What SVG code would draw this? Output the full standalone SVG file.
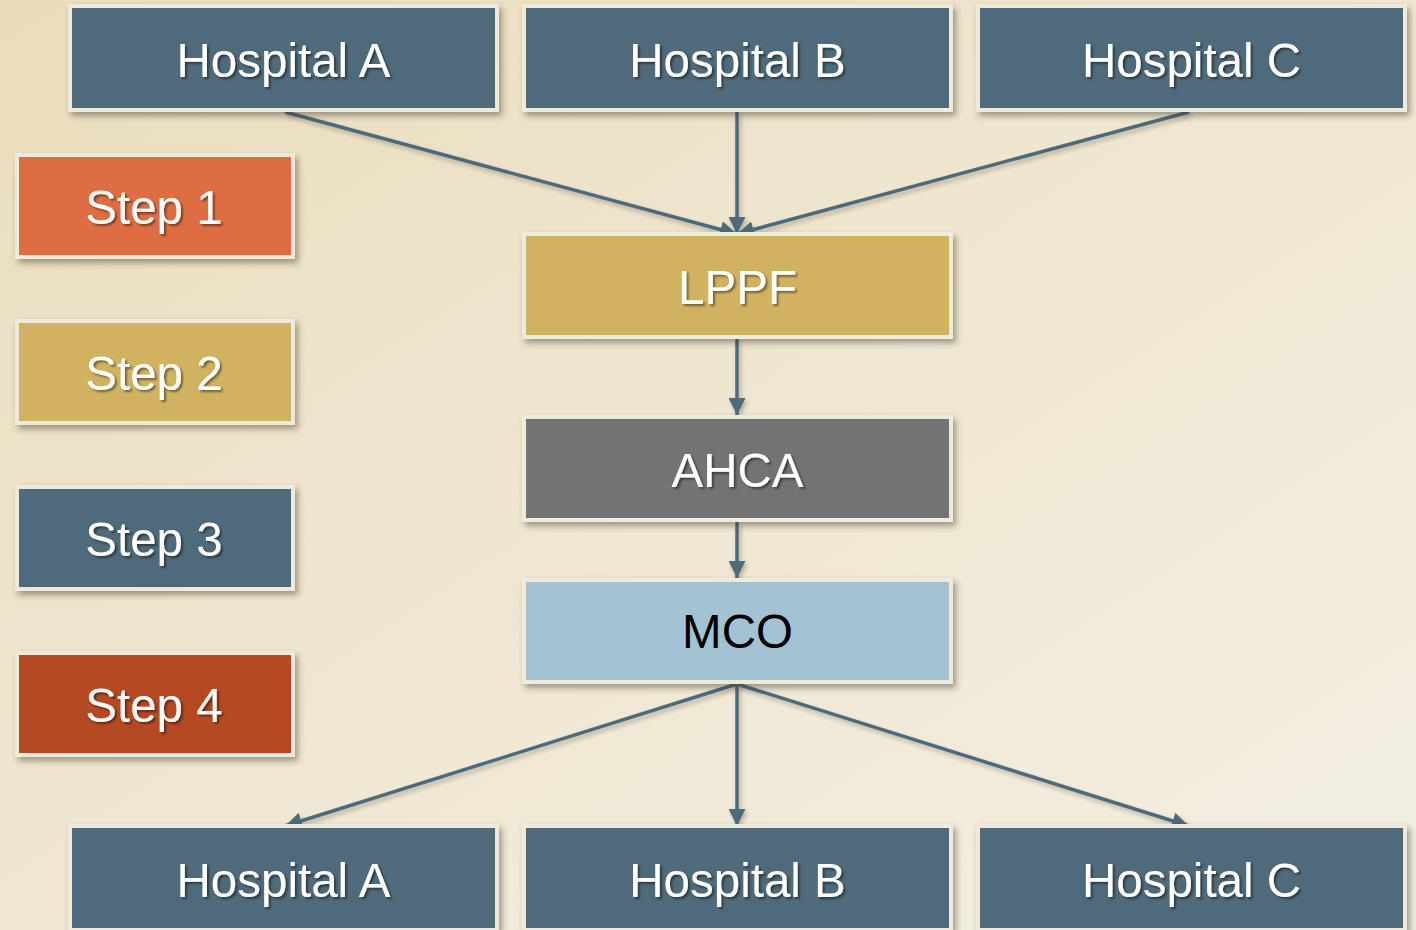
<svg xmlns="http://www.w3.org/2000/svg" width="1416" height="930" viewBox="0 0 1416 930">
  <defs>
    <linearGradient id="bg" x1="0" y1="0" x2="1" y2="1">
      <stop offset="0" stop-color="#EADDBC"/>
      <stop offset="0.5" stop-color="#EFE7D2"/>
      <stop offset="1" stop-color="#F3EFE2"/>
    </linearGradient>
    <filter id="shadow" x="-5%" y="-10%" width="115%" height="130%">
      <feDropShadow dx="3" dy="4" stdDeviation="3" flood-color="#3a3020" flood-opacity="0.45"/>
    </filter>
    <filter id="lshadow" x="-10%" y="-10%" width="120%" height="120%">
      <feDropShadow dx="2" dy="3" stdDeviation="2" flood-color="#3a3020" flood-opacity="0.3"/>
    </filter>
    <filter id="tshadow" x="-10%" y="-20%" width="120%" height="140%">
      <feDropShadow dx="2" dy="2" stdDeviation="1" flood-color="#000" flood-opacity="0.45"/>
    </filter>
    <marker id="arrow" markerUnits="userSpaceOnUse" markerWidth="17" markerHeight="17" refX="17" refY="8.5" orient="auto">
      <path d="M0,0 L17,8.5 L0,17 Z" fill="#4E6B7C"/>
    </marker>
    <style>
      .box { stroke: #EEEADC; stroke-width: 4; filter: url(#shadow); }
      .hosp { fill: #4F6B7A; }
      .s1 { fill: #DE6E42; }
      .gold { fill: #D0B260; }
      .s4 { fill: #B54A20; }
      .ahca { fill: #737373; }
      .mco { fill: #A3C3D2; }
      .lbl { font-family: "Liberation Sans", Arial, sans-serif; font-size: 47.5px; fill: #FFFFFF; text-anchor: middle; filter: url(#tshadow); }
      .dark { fill: #000000; filter: none; }
      .conn { stroke: #4E6B7C; stroke-width: 3.5; fill: none; marker-end: url(#arrow); }
    </style>
  </defs>
  <rect x="0" y="0" width="1416" height="930" fill="url(#bg)"/>

  <g id="connectors" filter="url(#lshadow)">
    <line class="conn" x1="285" y1="112" x2="737" y2="234"/>
    <line class="conn" x1="737" y1="112" x2="737" y2="234"/>
    <line class="conn" x1="1189" y1="112" x2="737" y2="234"/>
    <line class="conn" x1="737" y1="339" x2="737" y2="415"/>
    <line class="conn" x1="737" y1="522" x2="737" y2="578"/>
    <line class="conn" x1="737" y1="684" x2="285" y2="826"/>
    <line class="conn" x1="737" y1="684" x2="737" y2="826"/>
    <line class="conn" x1="737" y1="684" x2="1189" y2="826"/>
  </g>

  <g id="hospA-top">
    <rect class="box hosp" x="70" y="6" width="427" height="104"/>
    <text class="lbl" x="283.5" y="77">Hospital A</text>
  </g>
  <g id="hospB-top">
    <rect class="box hosp" x="524" y="6" width="427" height="104"/>
    <text class="lbl" x="737.5" y="77">Hospital B</text>
  </g>
  <g id="hospC-top">
    <rect class="box hosp" x="978" y="6" width="427" height="104"/>
    <text class="lbl" x="1191.5" y="77">Hospital C</text>
  </g>

  <g id="step1">
    <rect class="box s1" x="17" y="155" width="276" height="102"/>
    <text class="lbl" x="154" y="224">Step 1</text>
  </g>
  <g id="step2">
    <rect class="box gold" x="17" y="321" width="276" height="102"/>
    <text class="lbl" x="154" y="390">Step 2</text>
  </g>
  <g id="step3">
    <rect class="box hosp" x="17" y="487" width="276" height="102"/>
    <text class="lbl" x="154" y="556">Step 3</text>
  </g>
  <g id="step4">
    <rect class="box s4" x="17" y="653" width="276" height="102"/>
    <text class="lbl" x="154" y="722">Step 4</text>
  </g>

  <g id="lppf">
    <rect class="box gold" x="524" y="234" width="427" height="103"/>
    <text class="lbl" x="737.5" y="304">LPPF</text>
  </g>
  <g id="ahca">
    <rect class="box ahca" x="524" y="417" width="427" height="103"/>
    <text class="lbl" x="737.5" y="487">AHCA</text>
  </g>
  <g id="mco">
    <rect class="box mco" x="524" y="580" width="427" height="102"/>
    <text class="lbl dark" x="737.5" y="648">MCO</text>
  </g>

  <g id="hospA-bottom">
    <rect class="box hosp" x="70" y="826" width="427" height="104"/>
    <text class="lbl" x="283.5" y="897">Hospital A</text>
  </g>
  <g id="hospB-bottom">
    <rect class="box hosp" x="524" y="826" width="427" height="104"/>
    <text class="lbl" x="737.5" y="897">Hospital B</text>
  </g>
  <g id="hospC-bottom">
    <rect class="box hosp" x="978" y="826" width="427" height="104"/>
    <text class="lbl" x="1191.5" y="897">Hospital C</text>
  </g>
</svg>
